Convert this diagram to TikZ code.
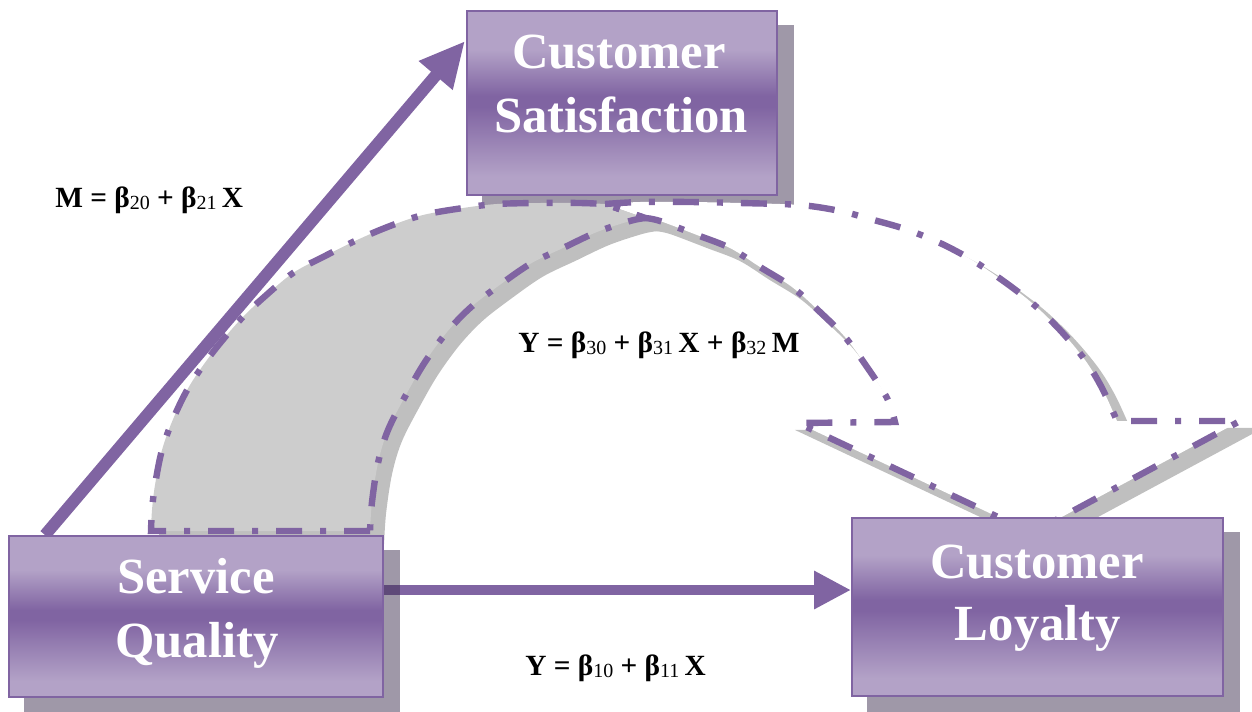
\documentclass[tikz,border=0pt]{standalone}
\usepackage{fontspec}
\setmainfont{Liberation Serif}
\usetikzlibrary{arrows.meta,calc}
\definecolor{pur}{HTML}{8064A2}
\definecolor{plight}{HTML}{B3A2C7}
\definecolor{shd}{HTML}{3F3151}
\definecolor{gfill}{HTML}{CDCDCD}
\definecolor{gshadow}{HTML}{BFBFBF}
\pgfdeclareverticalshading{boxshade}{100bp}{color(0bp)=(plight); color(25bp)=(plight); color(30bp)=(plight); color(49bp)=(pur); color(52bp)=(pur); color(64.5bp)=(plight); color(75bp)=(plight); color(100bp)=(plight)}
\pgfdeclarelayer{bg}
\pgfdeclarelayer{mid}
\pgfsetlayers{bg,mid,main}
\newcommand\sbs[1]{\raisebox{-1.5pt}{\fontsize{15pt}{16pt}\selectfont\mdseries #1}}
\def\darkpath{(370,531) -- (151,531) -- plot[smooth,tension=0.55] coordinates {(151,531) (152,510) (155,485) (162,450) (174,417) (190,385) (213,352) (240,320) (263,298) (293,273) (323,257) (357,240) (390,226) (423,215) (463,208) (497,204) (540,203) (580,203) (605,204)} -- (645,218) -- plot[smooth,tension=0.55] coordinates {(645,218) (630,221) (597,232) (563,248) (530,264) (497,287) (470,308) (447,332) (425,362) (407,393) (388,430) (378,463) (372,502) (370,531)} -- cycle}
\def\frontpath{(605,204) -- plot[smooth,tension=0.55] coordinates {(605,204) (640,202) (690,202) (740,203) (800,205) (840,211) (870,219) (905,229) (940,243) (972,260) (1002,280) (1032,303) (1060,330) (1085,360) (1102,388) (1117,421)} -- (1240,421) -- (1032,533) -- (798,423) -- (895,422) -- plot[smooth,tension=0.55] coordinates {(895,422) (887,398) (867,367) (845,337) (820,312) (792,287) (760,267) (730,248) (697,235) (660,221) (645,218)} -- cycle}
\begin{document}
\begin{tikzpicture}[x=0.75pt,y=-0.75pt,
  box/.style={rectangle, draw=pur, line width=1.5pt, shade, shading=boxshade, inner sep=0pt},
  title/.style={anchor=base, inner sep=0pt, text=white, font=\fontsize{38pt}{48pt}\selectfont\bfseries},
  eq/.style={anchor=base west, inner sep=0pt, font=\fontsize{22pt}{24pt}\selectfont\bfseries},
  boxshadow/.style={fill=shd, opacity=0.5},
  dashline/.style={draw=pur, line width=4.8pt, dash pattern=on 19.5pt off 13.5pt on 4.5pt off 13.5pt},
  conn/.style={draw=pur}]
\useasboundingbox (0,0) rectangle (1252,711);
% boxes
\node[box, minimum width=280.5pt, minimum height=120.75pt] (SQ) at (196,616.5) {};
\node[box, minimum width=232.5pt, minimum height=138pt] (CS) at (622,103) {};
\node[box, minimum width=278.25pt, minimum height=133.5pt] (CL) at (1037.5,607) {};
\node[title] (sq1) at (196,593) {Service};
\node[title] (sq2) at (197,657) {Quality};
\node[title] (cs1) at (619,68) {Customer};
\node[title] (cs2) at (621,132) {Satisfaction};
\node[title] (cl1) at (1037,578) {Customer};
\node[title] (cl2) at (1038,640) {Loyalty};
\coordinate (hy) at (0,590);
\coordinate (dstart) at ($(SQ.north west)+(37,0)$);
\coordinate (dtip) at ($(CS.north west)+(-1,31)$);
\begin{pgfonlayer}{bg}
  \draw[conn, line width=7.5pt, -{Triangle[length=27.75pt,width=27pt]}] (SQ.center |- hy) -- (CL.west |- hy);
  \fill[boxshadow] ([shift={(16,15)}]SQ.north west) rectangle ([shift={(16,15)}]SQ.south east);
  \fill[boxshadow] ([shift={(16,15)}]CS.north west) rectangle ([shift={(16,15)}]CS.south east);
  \fill[boxshadow] ([shift={(16,15)}]CL.north west) rectangle ([shift={(16,15)}]CL.south east);
\end{pgfonlayer}
\begin{pgfonlayer}{mid}
  \begin{scope}[shift={(11,10)}]
    \fill[gshadow] \darkpath;
    \fill[gshadow] \frontpath;
    \draw[gshadow, line width=4.8pt] \darkpath;
    \draw[gshadow, line width=4.8pt] \frontpath;
  \end{scope}
  \fill[white] \frontpath;
  \fill[gfill] \darkpath;
  \draw[dashline] \darkpath;
  \draw[dashline] \frontpath;
  \draw[conn, line width=9pt, -{Triangle[length=34pt,width=31pt]}] (dstart) -- (dtip);
\end{pgfonlayer}
% equations
\node[eq] (e1) at (55,207) {M = β\sbs{20} + β\sbs{21}\hspace{4pt}X};
\node[eq] (e2) at (518,352) {Y = β\sbs{30} + β\sbs{31}\hspace{4pt}X + β\sbs{32}\hspace{4pt}M};
\node[eq] (e3) at (525,675) {Y = β\sbs{10} + β\sbs{11}\hspace{4pt}X};
\end{tikzpicture}
\end{document}
